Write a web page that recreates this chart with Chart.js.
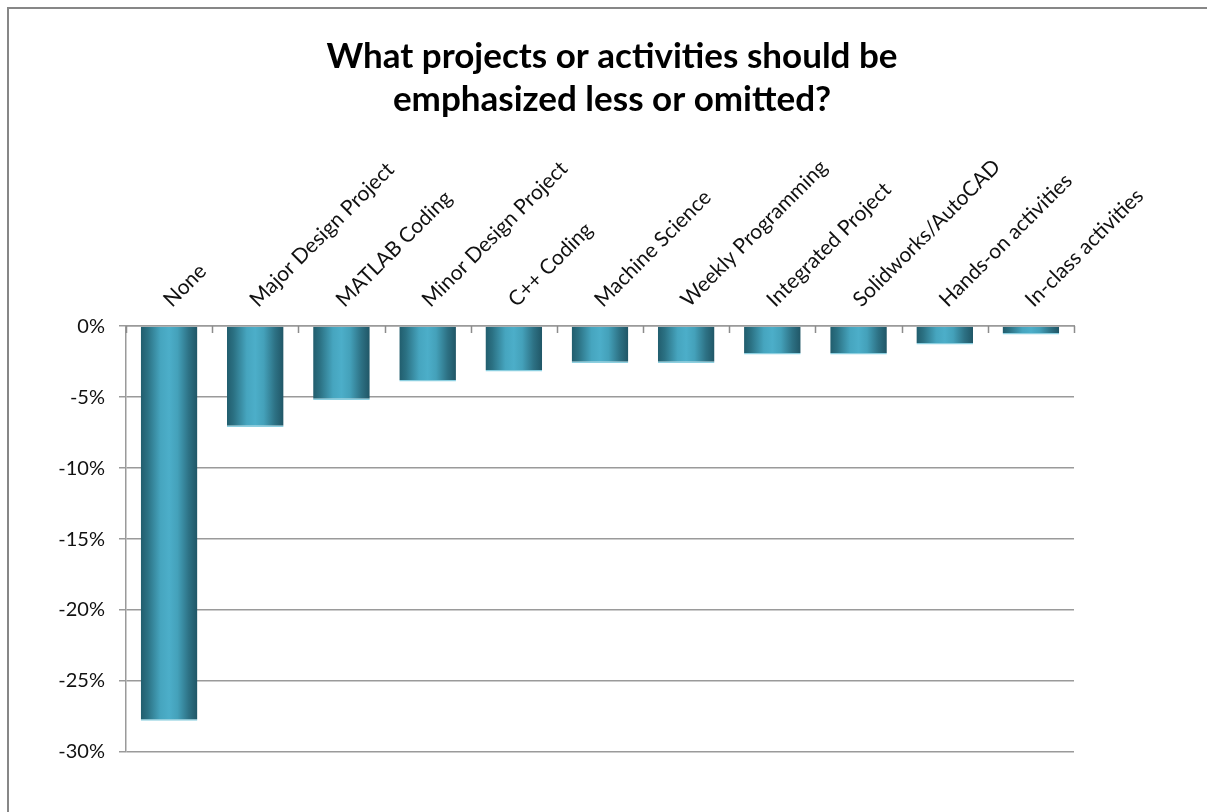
<!DOCTYPE html>
<html lang="en">
<head>
  <meta charset="UTF-8">
  <title>Projects or activities to emphasize less</title>
  <script src="https://cdn.jsdelivr.net/npm/chart.js"></script>
  <style>
    html, body {
      margin: 0;
      padding: 0;
      overflow: hidden;
      background: #fff;
    }
    #frame {
      position: absolute;
      left: 7px;
      top: 7px;
      width: 1400px;
      height: 1000px;
      border: 2px solid #878787;
    }
    #wrap {
      position: absolute;
      left: 0;
      top: 0;
      width: 1207px;
      height: 812px;
    }
  </style>
</head>
<body>
  <div id="frame"></div>
  <div id="wrap"><canvas id="lessChart"></canvas></div>

  <script>
    const categories = [
      'None', 'Major Design Project', 'MATLAB Coding', 'Minor Design Project',
      'C++ Coding', 'Machine Science', 'Weekly Programming', 'Integrated Project',
      'Solidworks/AutoCAD', 'Hands-on activities', 'In-class activities'
    ];
    const responses = [-27.8, -7.1, -5.2, -3.9, -3.2, -2.6, -2.6, -2.0, -2.0, -1.3, -0.6];
    const yTicks = [0, -5, -10, -15, -20, -25, -30];

    const FONT = 'Lato, "Open Sans", sans-serif';
    const BAR_PCT = 0.657;

    // horizontal shading on each bar: dark edges, light middle
    function barShade(ctx) {
      const chart = ctx.chart;
      const xs = chart.scales.x;
      if (!xs || xs.width === undefined) return '#3c93a8';
      const w = xs.width / categories.length * BAR_PCT;
      const cx = xs.getPixelForValue(ctx.dataIndex);
      const g = chart.ctx.createLinearGradient(cx - w / 2, 0, cx + w / 2, 0);
      g.addColorStop(0, '#215d6d');
      g.addColorStop(0.12, '#2b7183');
      g.addColorStop(0.35, '#46a5bf');
      g.addColorStop(0.5, '#4caec9');
      g.addColorStop(0.65, '#44a1ba');
      g.addColorStop(0.85, '#2d7184');
      g.addColorStop(1, '#205666');
      return g;
    }

    // small tick marks between categories, hanging below the zero line
    const categoryTicks = {
      id: 'categoryTicks',
      afterDatasetsDraw(chart) {
        const xs = chart.scales.x;
        const ys = chart.scales.y;
        const y0 = ys.getPixelForValue(0);
        const c = chart.ctx;
        c.save();
        c.strokeStyle = '#8c8c8c';
        c.lineWidth = 1.5;
        c.beginPath();
        for (let i = 0; i <= categories.length; i++) {
          const x = Math.round(xs.getPixelForValue(i - 0.5)) + 0.5;
          c.moveTo(x, y0);
          c.lineTo(x, y0 + 7);
        }
        c.stroke();
        c.restore();
      }
    };

    const ctx = document.getElementById('lessChart').getContext('2d');
    new Chart(ctx, {
      type: 'bar',
      data: {
        labels: categories,
        datasets: [{
          data: responses,
          backgroundColor: barShade,
          borderColor: '#8ccfe0',
          borderWidth: { top: 0, left: 0, right: 0, bottom: 1.5 },
          borderSkipped: false,
          barPercentage: BAR_PCT,
          categoryPercentage: 1
        }]
      },
      options: {
        responsive: true,
        maintainAspectRatio: false,
        animation: false,
        layout: {
          padding: { left: 17, right: 0, top: 0, bottom: 60 }
        },
        plugins: {
          legend: { display: false },
          tooltip: { enabled: false },
          title: {
            display: true,
            text: ['What projects or activities should be', 'emphasized less or omitted?'],
            color: '#000',
            font: { family: FONT, size: 35, weight: 'bold', lineHeight: 1.23 },
            padding: { top: 35, bottom: 0 }
          }
        },
        scales: {
          x: {
            position: 'top',
            grid: { display: false },
            border: { display: true, color: '#9a9a9a', width: 1.5 },
            ticks: {
              color: '#111',
              font: { family: FONT, size: 21 },
              minRotation: 45,
              maxRotation: 45,
              autoSkip: false,
              padding: 6,
              labelOffset: 16
            },
            afterFit(scale) { scale.height = 205; }
          },
          y: {
            min: -30,
            max: 0,
            afterBuildTicks(scale) {
              scale.ticks = yTicks.map(v => ({ value: v }));
            },
            grid: {
              color: '#9a9a9a',
              lineWidth: 1.5,
              tickLength: 7,
              drawTicks: true
            },
            border: { display: true, color: '#9a9a9a', width: 1.5 },
            ticks: {
              color: '#111',
              font: { family: FONT, size: 20 },
              padding: 14,
              callback: v => v + '%'
            },
            afterFit(scale) { scale.width = 109; }
          },
          // empty right-hand axis keeps the plot clear of the right edge
          spacer: {
            type: 'linear',
            position: 'right',
            display: true,
            grid: { drawOnChartArea: false, drawTicks: false },
            border: { display: false },
            ticks: { display: false },
            afterFit(scale) { scale.width = 133; }
          }
        }
      },
      plugins: [categoryTicks]
    });
  </script>
</body>
</html>
